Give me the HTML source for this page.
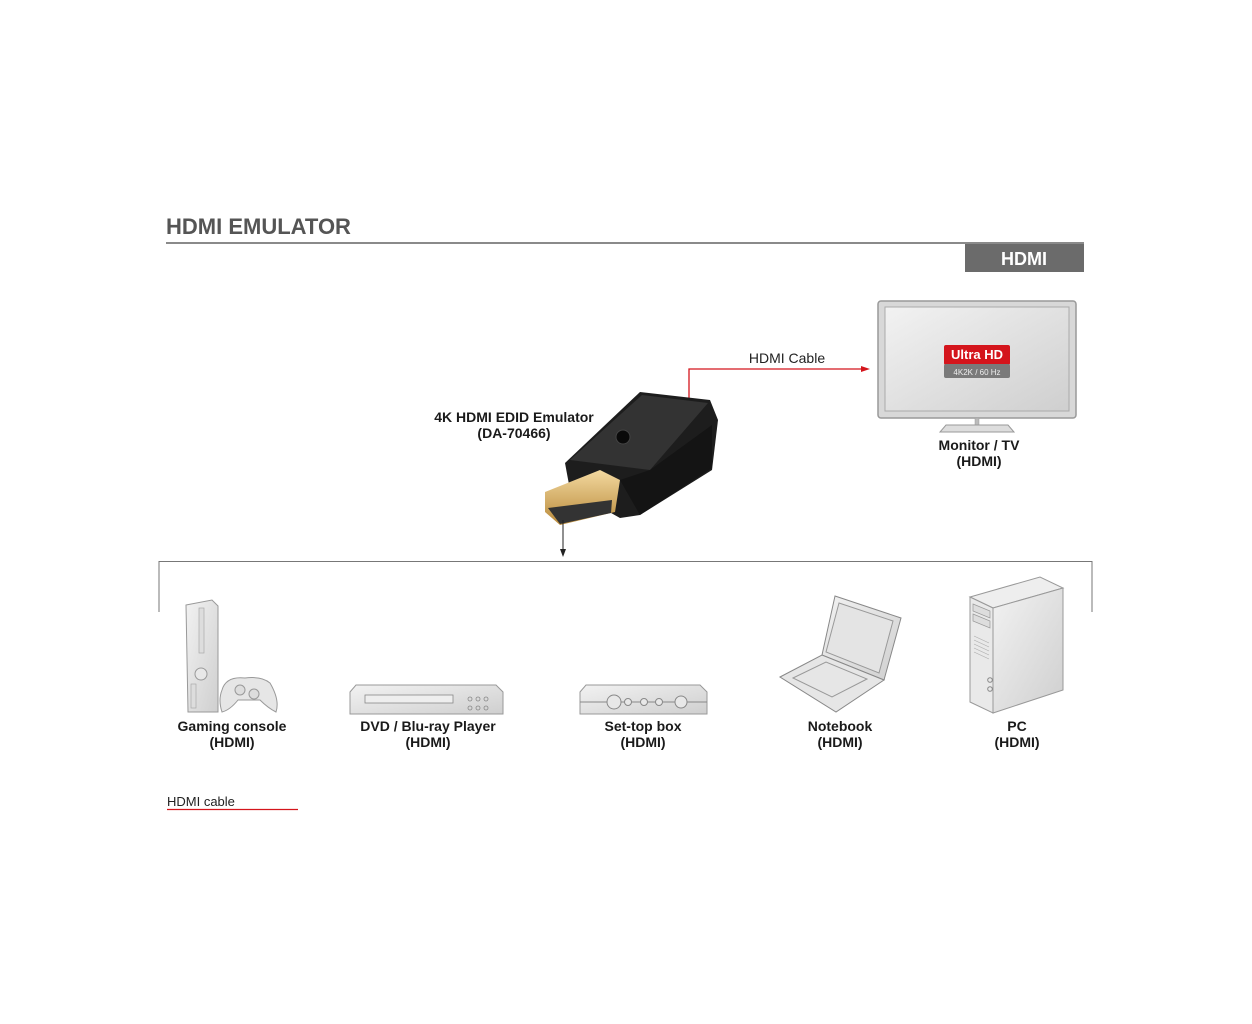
<!DOCTYPE html>
<html><head><meta charset="utf-8"><style>
html,body{margin:0;padding:0;background:#fff;width:1252px;height:1024px;overflow:hidden}
svg{display:block}
text{font-family:"Liberation Sans",sans-serif}
.b{font-weight:bold;font-size:14px;fill:#1a1a1a}
</style></head><body>
<svg width="1252" height="1024" viewBox="0 0 1252 1024" xmlns="http://www.w3.org/2000/svg">
<defs>
<linearGradient id="g1" x1="0" y1="0" x2="1" y2="1"><stop offset="0" stop-color="#f2f2f2"/><stop offset="1" stop-color="#cfcfcf"/></linearGradient>
<linearGradient id="gold" x1="0" y1="0" x2="0" y2="1"><stop offset="0" stop-color="#f3d9a0"/><stop offset="1" stop-color="#b98a3a"/></linearGradient>
</defs>
<text x="166" y="234" font-size="22" font-weight="bold" fill="#555">HDMI EMULATOR</text>
<rect x="166" y="242" width="918" height="2" fill="#8a8a8a"/>
<rect x="965" y="244" width="119" height="28" fill="#6b6b6b"/>
<text x="1024" y="265" font-size="18" font-weight="bold" fill="#fff" text-anchor="middle">HDMI</text>

<!-- monitor -->
<rect x="878" y="301" width="198" height="117" rx="3" fill="#d8d8d8" stroke="#999" stroke-width="1.5"/>
<rect x="885" y="307" width="184" height="104" fill="url(#g1)" stroke="#aaa"/>
<rect x="975" y="418" width="4" height="8" fill="#bbb" stroke="#999" stroke-width=".5"/>
<path d="M946 425 L1008 425 L1014 432 L940 432 Z" fill="#ddd" stroke="#999"/>
<rect x="944" y="345" width="66" height="20" rx="2" fill="#d4151c"/>
<rect x="944" y="364" width="66" height="14" rx="2" fill="#7a7a7a"/>
<text x="977" y="359" font-size="13" font-weight="bold" fill="#fff" text-anchor="middle">Ultra HD</text>
<text x="977" y="375" font-size="8" fill="#eee" text-anchor="middle">4K2K / 60 Hz</text>
<text x="979" y="450" class="b" text-anchor="middle">Monitor / TV</text>
<text x="979" y="466" class="b" text-anchor="middle">(HDMI)</text>

<!-- red cable -->
<path d="M689 400 L689 369 L862 369" fill="none" stroke="#d4151c" stroke-width="1.3"/>
<path d="M870 369 L861 366 L861 372 Z" fill="#d4151c"/>
<text x="787" y="363" font-size="14" fill="#222" text-anchor="middle">HDMI Cable</text>

<!-- emulator -->
<path d="M565 463 L640 392 L710 400 L718 420 L712 470 L640 515 L620 518 L570 490 Z" fill="#1d1d1d"/>
<path d="M570 460 L642 395 L708 403 L650 470 Z" fill="#333"/>
<path d="M620 480 L650 470 L712 425 L712 468 L640 515 Z" fill="#141414"/>
<circle cx="623" cy="437" r="7" fill="#0a0a0a" stroke="#444"/>
<path d="M545 492 L600 470 L620 480 L615 512 L560 525 L545 512 Z" fill="url(#gold)"/>
<path d="M548 508 L612 500 L611 513 L560 524 Z" fill="#333"/>
<text x="514" y="422" class="b" text-anchor="middle">4K HDMI EDID Emulator</text>
<text x="514" y="438" class="b" text-anchor="middle">(DA-70466)</text>

<!-- down arrow -->
<line x1="563" y1="520" x2="563" y2="550" stroke="#222" stroke-width="1"/>
<path d="M563 557 L560 549 L566 549 Z" fill="#222"/>

<!-- bracket -->
<path d="M159 612 L159 561.5 L1092 561.5 L1092 612" fill="none" stroke="#777" stroke-width="1"/>

<!-- gaming console -->
<path d="M186 605 L212 600 L218 606 L218 712 L188 712 Z" fill="url(#g1)" stroke="#999"/>
<rect x="199" y="608" width="5" height="45" fill="#ddd" stroke="#aaa" stroke-width=".7"/>
<circle cx="201" cy="674" r="6" fill="#e8e8e8" stroke="#999"/>
<rect x="191" y="684" width="5" height="24" fill="#ddd" stroke="#aaa" stroke-width=".7"/>
<path d="M222 690 Q226 676 245 678 Q262 676 270 683 Q280 700 276 712 Q268 708 260 700 L238 700 Q230 710 222 712 Q218 700 222 690 Z" fill="#e6e6e6" stroke="#999"/>
<circle cx="240" cy="690" r="5" fill="#ddd" stroke="#999"/>
<circle cx="254" cy="694" r="5" fill="#ddd" stroke="#999"/>
<text x="232" y="731" class="b" text-anchor="middle">Gaming console</text>
<text x="232" y="747" class="b" text-anchor="middle">(HDMI)</text>

<!-- DVD -->
<path d="M350 692 L356 685 L496 685 L503 692 L503 714 L350 714 Z" fill="url(#g1)" stroke="#999"/>
<rect x="365" y="695" width="88" height="8" fill="#eee" stroke="#888" stroke-width=".8"/>
<g fill="none" stroke="#888" stroke-width=".8"><circle cx="470" cy="699" r="2"/><circle cx="478" cy="699" r="2"/><circle cx="486" cy="699" r="2"/><circle cx="470" cy="708" r="2"/><circle cx="478" cy="708" r="2"/><circle cx="486" cy="708" r="2"/></g>
<text x="428" y="731" class="b" text-anchor="middle">DVD / Blu-ray Player</text>
<text x="428" y="747" class="b" text-anchor="middle">(HDMI)</text>

<!-- set-top box -->
<path d="M580 692 L586 685 L700 685 L707 692 L707 714 L580 714 Z" fill="url(#g1)" stroke="#999"/>
<line x1="580" y1="702" x2="707" y2="702" stroke="#888"/>
<g fill="#e8e8e8" stroke="#888"><circle cx="614" cy="702" r="7"/><circle cx="628" cy="702" r="3.5"/><circle cx="644" cy="702" r="3.5"/><circle cx="659" cy="702" r="3.5"/><circle cx="681" cy="702" r="6"/></g>
<text x="643" y="731" class="b" text-anchor="middle">Set-top box</text>
<text x="643" y="747" class="b" text-anchor="middle">(HDMI)</text>

<!-- notebook -->
<path d="M835 596 L901 618 L884 680 L822 655 Z" fill="url(#g1)" stroke="#888"/>
<path d="M839 603 L893 621 L879 673 L826 652 Z" fill="#e4e4e4" stroke="#999"/>
<path d="M780 677 L822 655 L884 680 L836 712 Z" fill="#e6e6e6" stroke="#888"/>
<path d="M793 678 L826 662 L867 679 L832 697 Z" fill="none" stroke="#999"/>
<text x="840" y="731" class="b" text-anchor="middle">Notebook</text>
<text x="840" y="747" class="b" text-anchor="middle">(HDMI)</text>

<!-- PC -->
<path d="M970 597 L1040 577 L1063 588 L993 608 Z" fill="#eee" stroke="#999"/>
<path d="M993 608 L1063 588 L1063 690 L993 713 Z" fill="url(#g1)" stroke="#999"/>
<path d="M970 597 L993 608 L993 713 L970 702 Z" fill="#e9e9e9" stroke="#999"/>
<path d="M973 604 L990 611 L990 618 L973 611 Z M973 614 L990 621 L990 628 L973 621 Z" fill="#ddd" stroke="#999" stroke-width=".7"/>
<g stroke="#aaa" stroke-width=".6"><line x1="974" y1="636" x2="989" y2="643"/><line x1="974" y1="640" x2="989" y2="647"/><line x1="974" y1="644" x2="989" y2="651"/><line x1="974" y1="648" x2="989" y2="655"/><line x1="974" y1="652" x2="989" y2="659"/></g>
<circle cx="990" cy="680" r="2.3" fill="none" stroke="#888"/><circle cx="990" cy="689" r="2.3" fill="none" stroke="#888"/>
<text x="1017" y="731" class="b" text-anchor="middle">PC</text>
<text x="1017" y="747" class="b" text-anchor="middle">(HDMI)</text>

<!-- legend -->
<text x="167" y="806" font-size="13" fill="#222">HDMI cable</text>
<line x1="167" y1="809.5" x2="298" y2="809.5" stroke="#d4151c" stroke-width="1.3"/>
</svg>
</body></html>
